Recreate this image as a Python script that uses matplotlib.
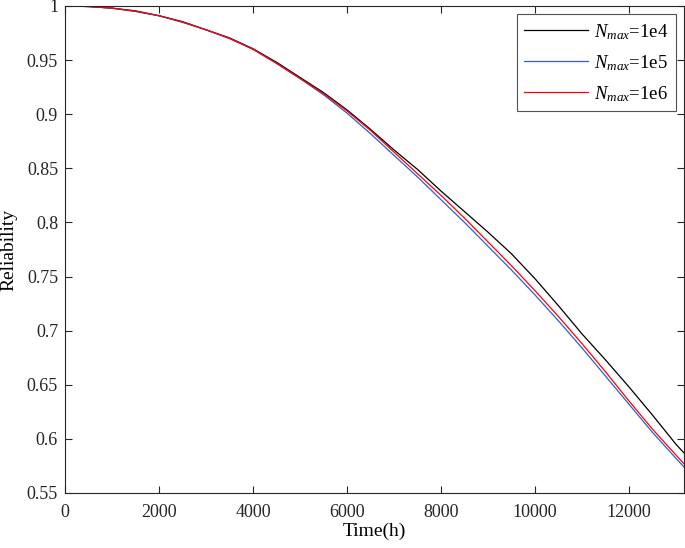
import matplotlib.pyplot as plt
import numpy as np

plt.rcParams['font.family'] = ['Liberation Serif', 'DejaVu Serif']
plt.rcParams['mathtext.fontset'] = 'custom'
plt.rcParams['mathtext.rm'] = 'Liberation Serif'
plt.rcParams['mathtext.it'] = 'Liberation Serif:italic'

# time in hours
t = [0, 500, 1000, 1500, 2000, 2500, 3000, 3500, 4000, 4500, 5000, 5500, 6000, 6500,
     7000, 7500, 8000, 8500, 9000, 9500, 10000, 10500, 11000, 11500, 12000, 12500,
     13000, 13170]

r_1e4 = [1.000, 0.9995, 0.998, 0.9955, 0.991, 0.9855, 0.978, 0.9705, 0.9605, 0.948,
         0.934, 0.920, 0.904, 0.886, 0.867, 0.849, 0.829, 0.810, 0.791, 0.771,
         0.748, 0.723, 0.697, 0.673, 0.648, 0.622, 0.595, 0.587]
r_1e5 = [1.000, 0.9995, 0.998, 0.995, 0.991, 0.985, 0.978, 0.970, 0.960, 0.947,
         0.933, 0.918, 0.901, 0.882, 0.862, 0.842, 0.821, 0.800, 0.778, 0.756,
         0.733, 0.709, 0.684, 0.658, 0.632, 0.606, 0.582, 0.574]
r_1e6 = [1.000, 0.9995, 0.998, 0.995, 0.991, 0.985, 0.978, 0.970, 0.960, 0.947,
         0.933, 0.919, 0.903, 0.885, 0.865, 0.845, 0.825, 0.804, 0.782, 0.760,
         0.737, 0.713, 0.688, 0.662, 0.635, 0.609, 0.585, 0.577]

fig = plt.figure(figsize=(6.85, 5.48), dpi=100)
ax = fig.add_axes([0.0949, 0.1004, 0.9036, 0.8887])

ax.plot(t, r_1e4, color='black', lw=0.9, label=r'$N_{max}$=1e4')
ax.plot(t, r_1e5, color='#2f5fd0', lw=0.9, label=r'$N_{max}$=1e5')
ax.plot(t, r_1e6, color='red', lw=0.9, label=r'$N_{max}$=1e6')

ax.set_xlim(0, 13170)
ax.set_ylim(0.55, 1.0)
ax.set_xticks(np.arange(0, 13000, 2000))
ax.set_yticks(np.arange(0.55, 1.001, 0.05))
ax.set_yticklabels(['0.55', '0.6', '0.65', '0.7', '0.75', '0.8', '0.85', '0.9', '0.95', '1'])
ax.tick_params(direction='in', top=True, right=True, labelsize=13, colors='#262626',
               length=5, width=0.8)
ax.tick_params(axis='x', pad=8)
ax.tick_params(axis='y', pad=5)
for s in ax.spines.values():
    s.set_color('#262626')
    s.set_linewidth(0.8)

ax.set_xlabel('Time(h)', fontsize=14, labelpad=1)
ax.set_ylabel('Reliability', fontsize=14, labelpad=7)

leg = ax.legend(loc='upper right', fontsize=13.5, handlelength=3.4, frameon=True,
                fancybox=False, edgecolor='#262626', borderaxespad=0.45,
                labelspacing=0.6, handletextpad=0.3, borderpad=0.4)
leg.get_frame().set_linewidth(0.8)

plt.savefig('out.png', dpi=100)
